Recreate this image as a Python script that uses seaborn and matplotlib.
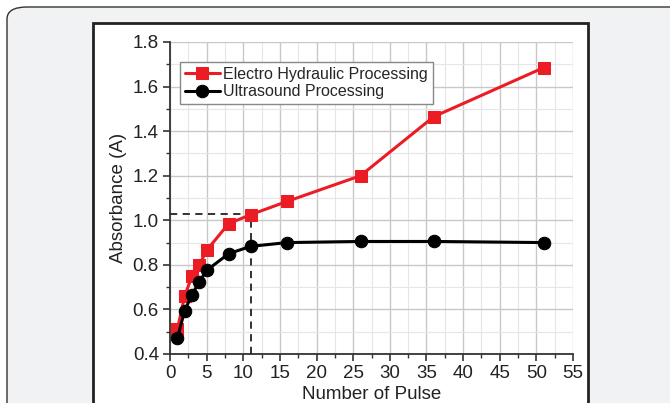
import numpy as np
import pandas as pd
import matplotlib
matplotlib.use("Agg")
import matplotlib.pyplot as plt
from matplotlib.patches import FancyBboxPatch, Rectangle
from matplotlib.ticker import MultipleLocator
import seaborn as sns

sns.set_style("whitegrid")
plt.rcParams["font.family"] = ["Liberation Sans", "DejaVu Sans"]

# data
pulses = [1, 2, 3, 4, 5, 8, 11, 16, 26, 36, 51]
electro_hydraulic = [0.51, 0.66, 0.75, 0.80, 0.865, 0.985, 1.025, 1.085, 1.20, 1.465, 1.685]
ultrasound = [0.47, 0.595, 0.665, 0.725, 0.775, 0.85, 0.883, 0.90, 0.905, 0.905, 0.90]
series_names = ["Electro Hydraulic Processing", "Ultrasound Processing"]
marked_x = 11
marked_y = 1.03

df = pd.DataFrame({
    "pulse": pulses * 2,
    "absorbance": electro_hydraulic + ultrasound,
    "method": [series_names[0]] * len(pulses) + [series_names[1]] * len(pulses),
})

W, H = 670, 403
fig = plt.figure(figsize=(W / 100, H / 100), dpi=100, facecolor="white")

# outer rounded grey panel
panel = FancyBboxPatch((7 / W, -20 / H), (W + 20 - 7) / W, (H + 20 - 7) / H,
                       boxstyle="round,pad=0,rounding_size=0.03",
                       transform=fig.transFigure, facecolor="#f1f2f4",
                       edgecolor="#333333", linewidth=1.0, zorder=-2)
fig.patches.append(panel)
# inner white chart box
box = Rectangle((93 / W, -5 / H), (588 - 93) / W, (H - 23 + 5) / H,
                transform=fig.transFigure, facecolor="white",
                edgecolor="#222222", linewidth=2.0, zorder=-1)
fig.patches.append(box)

ax = fig.add_axes([170 / W, (H - 354) / H, (573 - 170) / W, (354 - 42) / H])
ax.set_zorder(5)
ax.set_facecolor("none")

palette = {series_names[0]: "#ec1c24", series_names[1]: "black"}
markers = {series_names[0]: "s", series_names[1]: "o"}
for name in series_names:
    sub = df[df["method"] == name]
    sns.lineplot(data=sub, x="pulse", y="absorbance", ax=ax, color=palette[name],
                 marker=markers[name], markersize=8 if name == series_names[0] else 9,
                 markeredgecolor=palette[name], linewidth=2.2, label=name, zorder=4)

# dashed guide lines
ax.plot([0, marked_x], [marked_y, marked_y], ls=(0, (4, 3)), color="#222222", lw=1.3, zorder=3)
ax.plot([marked_x, marked_x], [0.4, marked_y], ls=(0, (4, 3)), color="#222222", lw=1.3, zorder=3)

ax.set_xlim(0, 55)
ax.set_ylim(0.4, 1.8)
ax.xaxis.set_major_locator(MultipleLocator(5))
ax.xaxis.set_minor_locator(MultipleLocator(2.5))
ax.yaxis.set_major_locator(MultipleLocator(0.2))
ax.yaxis.set_minor_locator(MultipleLocator(0.1))
ax.set_yticks(np.arange(0.4, 1.81, 0.2))
ax.set_yticklabels([f"{v:.1f}" for v in np.arange(0.4, 1.81, 0.2)])

ax.grid(which="major", color="#c8c8c8", linewidth=1.0)
ax.grid(which="minor", color="#e6e6e6", linewidth=0.8)
for s in ["top", "right"]:
    ax.spines[s].set_visible(False)
for s in ["left", "bottom"]:
    ax.spines[s].set_color("#333333")
    ax.spines[s].set_linewidth(1.3)
ax.tick_params(which="major", direction="out", length=5, width=1.2, color="#333333",
               labelsize=13.5, labelcolor="#222222", left=True, bottom=True, pad=3)
ax.tick_params(which="minor", direction="out", length=3, width=1.0, color="#333333",
               left=True, bottom=True)

ax.set_xlabel("Number of Pulse", fontsize=13.5, color="#222222", labelpad=3)
ax.set_ylabel("Absorbance (A)", fontsize=13.5, color="#222222", labelpad=4)

leg = ax.legend(loc="upper left", bbox_to_anchor=(0.025, 0.935), fontsize=11.5,
                frameon=True, fancybox=False, framealpha=1, edgecolor="#888888",
                handlelength=2.2, handletextpad=0.2, borderpad=0.3, labelspacing=0.15,
                borderaxespad=0)
leg.get_frame().set_linewidth(1.0)

fig.savefig("out.png", dpi=100, facecolor="white")
